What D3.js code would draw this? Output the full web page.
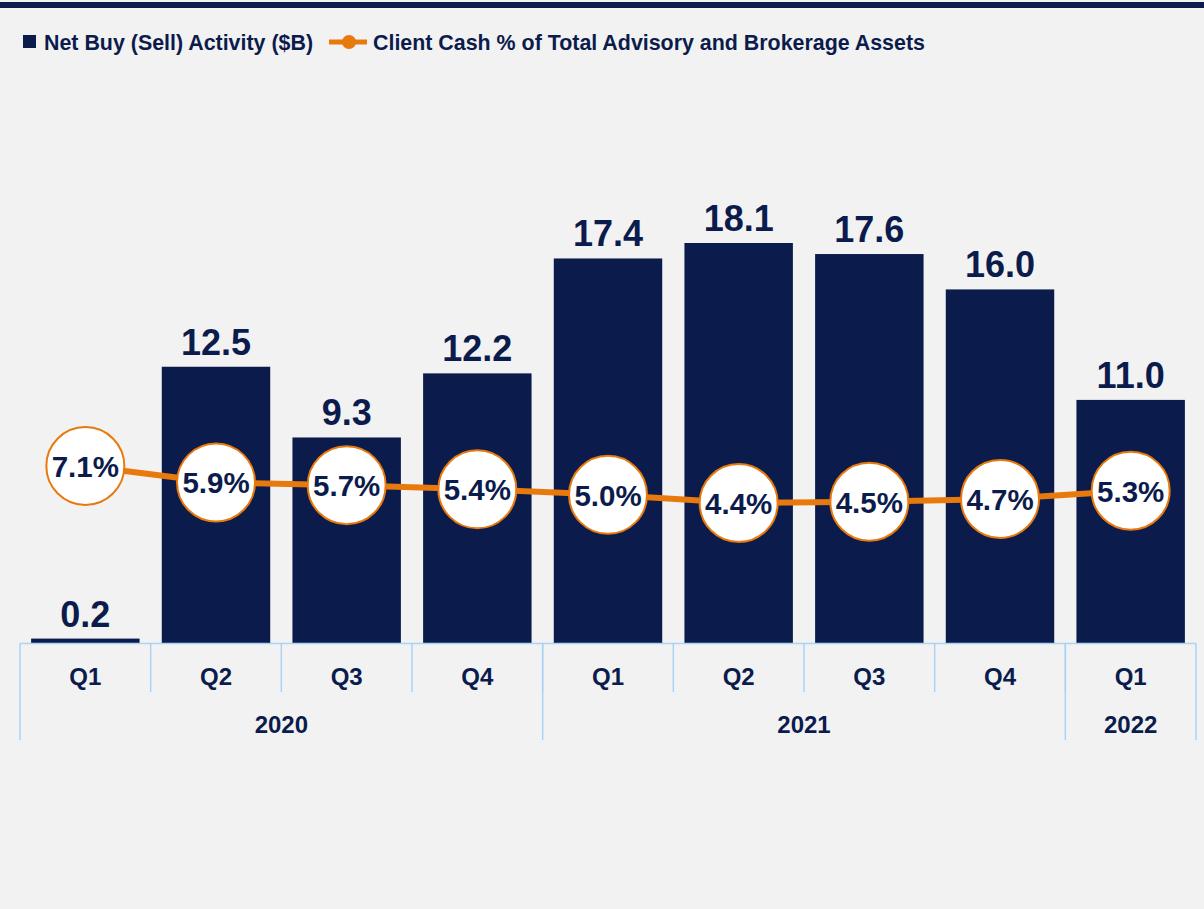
<!DOCTYPE html>
<html>
<head>
<meta charset="utf-8">
<script src="https://cdn.jsdelivr.net/npm/d3@7"></script>
<style>
  body { margin: 0; background: #f2f2f2; }
  svg { display: block; }
</style>
</head>
<body>
<svg id="chart"></svg>
<script>
var quarters = ['Q1', 'Q2', 'Q3', 'Q4', 'Q1', 'Q2', 'Q3', 'Q4', 'Q1']
var years = [
    {label: '2020', start: 0, end: 4},
    {label: '2021', start: 4, end: 8},
    {label: '2022', start: 8, end: 9}
]
var netBuy = [0.2, 12.5, 9.3, 12.2, 17.4, 18.1, 17.6, 16.0, 11.0]
var cashPct = [7.1, 5.9, 5.7, 5.4, 5.0, 4.4, 4.5, 4.7, 5.3]

var navy = '#0b1c4c'
var orange = '#e8790c'
var axisBlue = '#a9d4f8'
var font = "'Liberation Sans', Arial, sans-serif"

var W = 1204, H = 909
var svg = d3.select('#chart').attr('width', W).attr('height', H)

svg.append('rect').attr('width', W).attr('height', H).attr('fill', '#f2f2f2')
svg.append('rect').attr('x', 0).attr('y', 2).attr('width', W).attr('height', 6).attr('fill', navy)

var idx = d3.range(quarters.length)
var x = d3.scaleBand().domain(idx).range([20, 1196]).paddingInner(0.17).paddingOuter(0.085)
var step = x.step()
var x0 = 20
var y = d3.scaleLinear().domain([0, 18.1]).range([643, 243])
var y2 = d3.scaleLinear().domain([4.4, 7.1]).range([503, 466])

// bars
svg.selectAll('.bar').data(netBuy).enter().append('rect')
    .attr('x', function(d, i) { return x(i) })
    .attr('y', function(d) { return y(d) })
    .attr('width', x.bandwidth())
    .attr('height', function(d) { return y(0) - y(d) })
    .attr('fill', navy)

svg.selectAll('.barlabel').data(netBuy).enter().append('text')
    .text(function(d) { return d.toFixed(1) })
    .attr('x', function(d, i) { return x(i) + x.bandwidth() / 2 })
    .attr('y', function(d) { return y(d) - 12 })
    .attr('text-anchor', 'middle')
    .style('font-family', font)
    .attr('font-weight', 'bold')
    .attr('font-size', '36px')
    .attr('fill', navy)

// axis
var axis = svg.append('g').attr('stroke', axisBlue).attr('stroke-width', 1.5)
axis.append('line').attr('x1', x0).attr('x2', 1196).attr('y1', 643.5).attr('y2', 643.5)
idx.forEach(function(i) {
    if (i > 0) {
        axis.append('line').attr('x1', x0 + step * i).attr('x2', x0 + step * i)
            .attr('y1', 643).attr('y2', 692)
    }
})
years.forEach(function(yr) {
    axis.append('line').attr('x1', x0 + step * yr.start).attr('x2', x0 + step * yr.start)
        .attr('y1', 643).attr('y2', 740)
})
axis.append('line').attr('x1', 1196).attr('x2', 1196).attr('y1', 643).attr('y2', 740)

svg.selectAll('.qlabel').data(quarters).enter().append('text')
    .text(function(d) { return d })
    .attr('x', function(d, i) { return x(i) + x.bandwidth() / 2 })
    .attr('y', 685)
    .attr('text-anchor', 'middle')
    .style('font-family', font)
    .attr('font-weight', 'bold')
    .attr('font-size', '24px')
    .attr('fill', navy)

svg.selectAll('.ylabel').data(years).enter().append('text')
    .text(function(d) { return d.label })
    .attr('x', function(d) { return x0 + step * (d.start + d.end) / 2 })
    .attr('y', 733)
    .attr('text-anchor', 'middle')
    .style('font-family', font)
    .attr('font-weight', 'bold')
    .attr('font-size', '24px')
    .attr('fill', navy)

// line
var line = d3.line()
    .x(function(d, i) { return x(i) + x.bandwidth() / 2 })
    .y(function(d) { return y2(d) })

svg.append('path').datum(cashPct)
    .attr('d', line)
    .attr('fill', 'none')
    .attr('stroke', orange)
    .attr('stroke-width', 6)

svg.selectAll('.dot').data(cashPct).enter().append('circle')
    .attr('cx', function(d, i) { return x(i) + x.bandwidth() / 2 })
    .attr('cy', function(d) { return y2(d) })
    .attr('r', 39)
    .attr('fill', '#ffffff')
    .attr('stroke', orange)
    .attr('stroke-width', 2)

svg.selectAll('.dotlabel').data(cashPct).enter().append('text')
    .text(function(d) { return d.toFixed(1) + '%' })
    .attr('x', function(d, i) { return x(i) + x.bandwidth() / 2 })
    .attr('y', function(d) { return y2(d) + 11 })
    .attr('text-anchor', 'middle')
    .style('font-family', font)
    .attr('font-weight', 'bold')
    .attr('font-size', '29.5px')
    .attr('fill', navy)

// legend
svg.append('rect').attr('x', 23).attr('y', 35).attr('width', 13).attr('height', 13).attr('fill', navy)
svg.append('text')
    .text('Net Buy (Sell) Activity ($B)')
    .attr('x', 44).attr('y', 50)
    .style('font-family', font).attr('font-weight', 'bold').attr('font-size', '21.4px')
    .attr('fill', navy)
svg.append('line').attr('x1', 329).attr('x2', 367).attr('y1', 42).attr('y2', 42)
    .attr('stroke', orange).attr('stroke-width', 5)
svg.append('circle').attr('cx', 349).attr('cy', 42).attr('r', 7).attr('fill', orange)
svg.append('text')
    .text('Client Cash % of Total Advisory and Brokerage Assets')
    .attr('x', 373).attr('y', 50)
    .style('font-family', font).attr('font-weight', 'bold').attr('font-size', '21.4px')
    .attr('fill', navy)
</script>
</body>
</html>
